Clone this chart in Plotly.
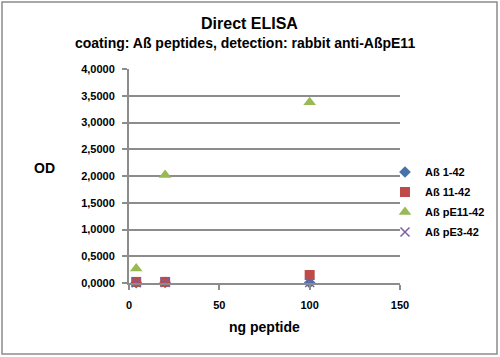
import plotly.graph_objects as go

ng = [4, 20, 100]
series_names = ["Aß 1-42", "Aß 11-42", "Aß pE11-42", "Aß pE3-42"]
ab1_42 = [0.005, 0.01, 0.005]
ab11_42 = [0.02, 0.02, 0.15]
abpE11_42 = [0.27, 2.02, 3.38]
abpE3_42 = [0.005, 0.01, 0.01]
values = [ab1_42, ab11_42, abpE11_42, abpE3_42]
symbols = ["diamond", "square", "triangle-up", "x-thin"]
colors = ["#4572A7", "#BE4B48", "#98B954", "#7D60A0"]
sizes = [9, 10, 11, 9]
y_ticks = [0, 0.5, 1.0, 1.5, 2.0, 2.5, 3.0, 3.5, 4.0]
y_labels = ["0,0000", "0,5000", "1,0000", "1,5000", "2,0000", "2,5000", "3,0000", "3,5000", "4,0000"]
x_ticks = [0, 50, 100, 150]

W, H = 500, 357
L, R, T, B = 129, 100, 69, 74
plot_h = H - T - B
plot_w = W - L - R


def py(pix):
    return (H - B - pix) / plot_h


def px(pix):
    return (pix - L) / plot_w


font = "Liberation Sans, Arial, sans-serif"
fig = go.Figure()
for i, (name, vals, sym, col, sz) in enumerate(zip(series_names, values, symbols, colors, sizes)):
    marker = dict(symbol=sym, color=col, size=sz)
    if sym == "x-thin":
        marker["line"] = dict(color=col, width=1.5)
    fig.add_trace(go.Scatter(x=ng, y=vals, mode="markers", name="<b>%s</b>" % name,
                             legendgroup="g%d" % i, marker=marker, cliponaxis=False))

fig.update_layout(
    width=W, height=H,
    margin=dict(l=L, r=R, t=T, b=B, autoexpand=False),
    paper_bgcolor="white", plot_bgcolor="white",
    font=dict(family=font, color="#000000"),
    showlegend=True,
    legend=dict(xref="container", yref="container", x=385 / W, xanchor="left",
                y=1 - 202 / H, yanchor="middle", traceorder="grouped",
                font=dict(size=11, family=font), itemwidth=30,
                tracegroupgap=1, bgcolor="rgba(0,0,0,0)"),
)
fig.add_annotation(text="<b>Direct ELISA</b>", xref="paper", yref="paper", x=px(249), y=py(23),
                   showarrow=False, font=dict(size=16), xanchor="center", yanchor="middle")
fig.add_annotation(text="<b>coating: Aß peptides, detection: rabbit anti-AßpE11</b>", xref="paper",
                   yref="paper", x=px(245), y=py(43), showarrow=False, font=dict(size=14),
                   xanchor="center", yanchor="middle")
fig.add_annotation(text="<b>OD</b>", xref="paper", yref="paper", x=px(44), y=py(168),
                   showarrow=False, font=dict(size=14), xanchor="center", yanchor="middle")
fig.add_annotation(text="<b>ng peptide</b>", xref="paper", yref="paper", x=px(264), y=py(327),
                   showarrow=False, font=dict(size=14), xanchor="center", yanchor="middle")
fig.add_shape(type="rect", xref="paper", yref="paper", x0=px(2), x1=px(497), y0=py(354), y1=py(2),
              line=dict(color="#8C8C8C", width=1.5), layer="below")

fig.update_xaxes(range=[0, 150], tickvals=x_ticks, ticktext=["<b>%d</b>" % v for v in x_ticks],
                 showgrid=False, zeroline=False, showline=True, linecolor="#8C8C8C", linewidth=2,
                 ticks="outside", tickcolor="#8C8C8C", ticklen=5, tickwidth=1.5,
                 tickfont=dict(size=11, family=font), ticklabelstandoff=6, automargin=False)
fig.update_yaxes(range=[0, 4.0], tickvals=y_ticks, ticktext=["<b>%s</b>" % t for t in y_labels],
                 showgrid=True, gridcolor="#8C8C8C", gridwidth=1.5, zeroline=False,
                 showline=True, linecolor="#8C8C8C", linewidth=2,
                 ticks="outside", tickcolor="#8C8C8C", ticklen=5, tickwidth=1.5,
                 tickfont=dict(size=11, family=font), ticklabelstandoff=5, automargin=False)

fig.write_html("out.html", config={"displayModeBar": False},
               post_script="document.body.style.margin='0';document.body.style.overflow='hidden';")
